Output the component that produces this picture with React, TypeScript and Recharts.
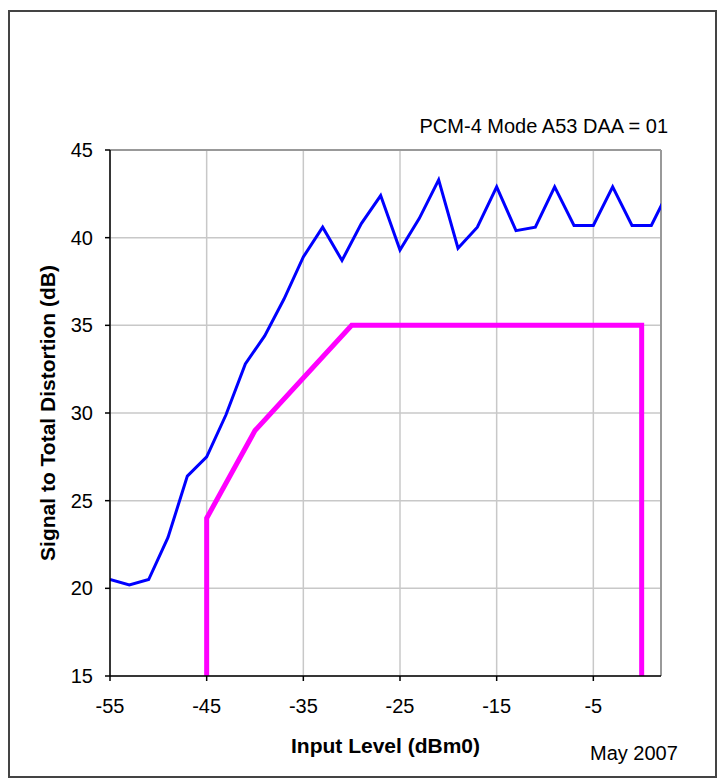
import { LineChart, Line, XAxis, YAxis, CartesianGrid, ReferenceLine, Label } from "recharts";

// measured curve, x = input level (dBm0), y = S/TD (dB)
const inputLevel = [-55, -53, -51, -49, -47, -45, -43, -41, -39, -37, -35, -33, -31, -29, -27, -25, -23, -21, -19, -17, -15, -13, -11, -9, -7, -5, -3, -1, 1, 3];
const sndr = [20.5, 20.2, 20.5, 22.9, 26.4, 27.5, 29.9, 32.8, 34.4, 36.5, 38.9, 40.6, 38.7, 40.8, 42.4, 39.3, 41.1, 43.3, 39.4, 40.6, 42.9, 40.4, 40.6, 42.9, 40.7, 40.7, 42.9, 40.7, 40.7, 42.9];

// spec mask
const maskLevel = [-45, -45, -40, -30, 0, 0];
const maskValue = [15, 24, 29, 35, 35, 15];

const xTicks = [-55, -45, -35, -25, -15, -5];
const yTicks = [15, 20, 25, 30, 35, 40, 45];
const xMax = 2;

const measured = inputLevel.map((x, i) => ({ x, y: sndr[i] }));
const mask = maskLevel.map((x, i) => ({ x, y: maskValue[i] }));

const font = "'Liberation Sans', Arial, sans-serif";

export default function App() {
  return (
    <div style={{ position: "absolute", left: 0, top: 0, width: 722, height: 782, fontFamily: font, background: "#fff" }}>
      <div style={{ position: "absolute", left: 8, top: 10, width: 709, height: 768, boxSizing: "border-box", border: "2px solid #444" }} />
      <div style={{ position: "absolute", left: 368, top: 116, width: 300, textAlign: "right", fontSize: 20, lineHeight: "20px", color: "#000" }}>
        PCM-4 Mode A53 DAA = 01
      </div>
      <div style={{ position: "absolute", left: 590, top: 743, fontSize: 20, lineHeight: "20px", color: "#000" }}>
        May 2007
      </div>
      <div style={{ position: "absolute", left: 0, top: 0 }}>
        <LineChart width={722} height={782} margin={{ top: 150, right: 61, left: 10, bottom: 16 }}>
          <CartesianGrid stroke="#c8c8c8" strokeWidth={1.5} />
          <XAxis
            type="number"
            dataKey="x"
            domain={[-55, xMax]}
            allowDataOverflow
            ticks={xTicks}
            height={90}
            tickSize={5}
            tickMargin={18}
            tick={{ fill: "#000", fontSize: 20 }}
            stroke="#000"
            strokeWidth={1.5}
          >
            <Label value="Input Level (dBm0)" position="insideBottom" offset={13} style={{ fontSize: 21, fontWeight: "bold", fill: "#000" }} />
          </XAxis>
          <YAxis
            type="number"
            domain={[15, 45]}
            ticks={yTicks}
            width={100}
            tickSize={5}
            tickMargin={12}
            tick={{ fill: "#000", fontSize: 20 }}
            stroke="#000"
            strokeWidth={1.5}
          >
            <Label
              value="Signal to Total Distortion (dB)"
              angle={-90}
              position="insideLeft"
              offset={38}
              style={{ fontSize: 21, fontWeight: "bold", fill: "#000", textAnchor: "middle" }}
            />
          </YAxis>
          <ReferenceLine y={45} stroke="#999" strokeWidth={2} />
          <ReferenceLine x={xMax} stroke="#999" strokeWidth={2} />
          <Line data={mask} dataKey="y" stroke="#ff00ff" strokeWidth={5} dot={false} isAnimationActive={false} />
          <Line data={measured} dataKey="y" stroke="#0000ff" strokeWidth={3} dot={false} isAnimationActive={false} />
        </LineChart>
      </div>
    </div>
  );
}
